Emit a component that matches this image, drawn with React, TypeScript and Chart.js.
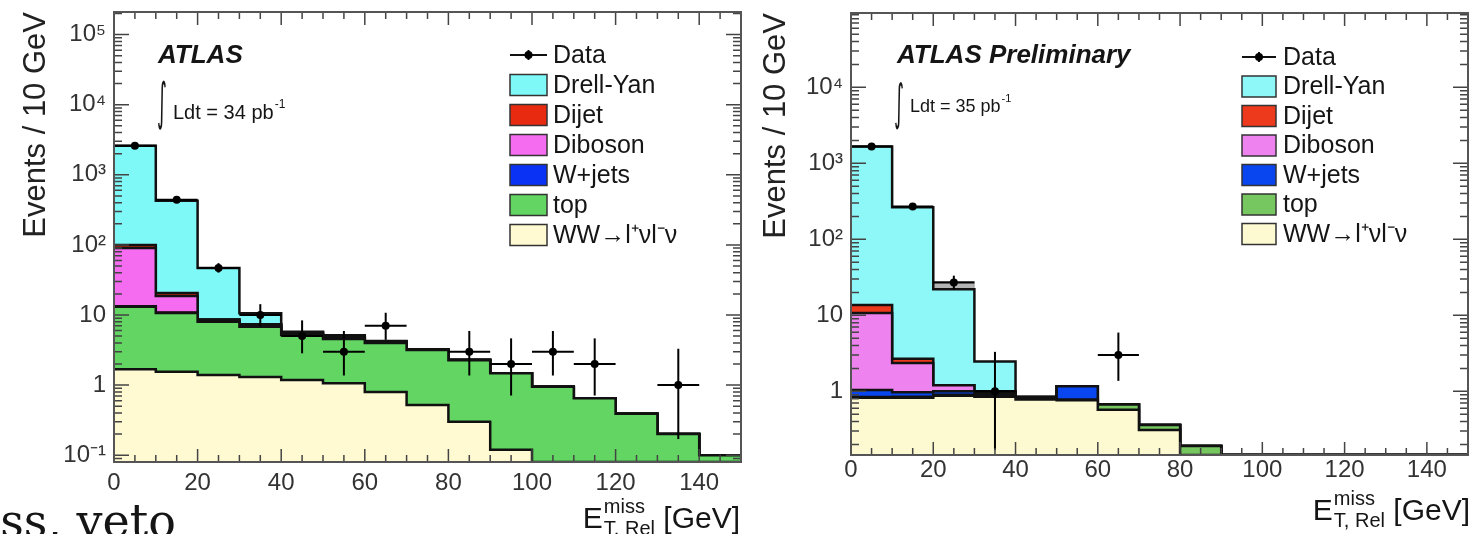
import React, { useEffect, useRef } from 'react';
import { Chart, registerables } from 'chart.js';

Chart.register(...registerables);

const FONT = "'Liberation Sans', Arial, Helvetica, sans-serif";

// ---------------- shared binning / labels ----------------
const binLow = [0, 10, 20, 30, 40, 50, 60, 70, 80, 90, 100, 110, 120, 130, 140];
const binWidth = 10;
const xTickLabels = ['0', '20', '40', '60', '80', '100', '120', '140'];
const logTickExps = [-1, 0, 1, 2, 3, 4, 5];
const logTickLabels = ['10⁻¹', '1', '10', '10²', '10³', '10⁴', '10⁵'];
const stackLabels = ['WW→l⁺νl⁻ν', 'top', 'W+jets', 'Diboson', 'Dijet', 'Drell-Yan'];
const legendLabels = ['Data', 'Drell-Yan', 'Dijet', 'Diboson', 'W+jets', 'top', 'WW→l⁺νl⁻ν'];
const yTitle = 'Events / 10 GeV';

// ---------------- left panel (34 pb-1) ----------------
const leftWW = [1.68, 1.55, 1.39, 1.31, 1.18, 1.06, 0.8, 0.52, 0.3, 0.12, 0, 0, 0, 0, 0];
const leftTop = [11.4, 9.15, 6.6, 5.5, 4.0, 3.5, 3.2, 2.64, 1.97, 1.35, 0.95, 0.65, 0.39, 0.2, 0.1];
const leftWjets = [0.3, 0.2, 0.15, 0.1, 0.1, 0.08, 0.05, 0.03, 0, 0, 0, 0, 0, 0, 0];
const leftDiboson = [77, 7.8, 0.5, 0.5, 0.3, 0.25, 0.1, 0.05, 0.03, 0, 0, 0, 0, 0, 0];
const leftDijet = [9.4, 1.9, 0, 0, 0, 0, 0, 0, 0, 0, 0, 0, 0, 0, 0];
const leftDY = [2500, 404, 38, 3.2, 0.2, 0.27, 0.1, 0, 0, 0, 0, 0, 0, 0, 0];
const leftData = [2600, 440, 47, 10, 5, 3, 7, 0, 3, 2, 3, 2, 0, 1, 0];
const leftDataLow = [2549, 419, 40.2, 6.89, 2.84, 1.37, 4.42, 0, 1.37, 0.71, 1.37, 0.71, 0, 0.17, 0];
const leftDataHigh = [2651, 461, 54.9, 14.27, 8.38, 5.92, 10.77, 0, 5.92, 4.64, 5.92, 4.64, 0, 3.3, 0];
const leftBandLow = [0, 0, 0, 0, 0, 0, 0, 0, 0, 0, 0, 0, 0, 0, 0];
const leftBandHigh = [0, 0, 0, 0, 0, 0, 0, 0, 0, 0, 0, 0, 0, 0, 0];

// ---------------- right panel (35 pb-1) ----------------
const rightWW = [0.82, 0.82, 0.87, 0.85, 0.78, 0.76, 0.57, 0.31, 0.12, 0, 0, 0, 0, 0, 0];
const rightTop = [0.02, 0.03, 0.03, 0.05, 0.04, 0.02, 0.1, 0.05, 0.07, 0, 0, 0, 0, 0, 0];
const rightWjets = [0.2, 0.12, 0.1, 0.05, 0.02, 0.38, 0, 0, 0, 0, 0, 0, 0, 0, 0];
const rightDiboson = [9.66, 1.38, 0.2, 0.05, 0, 0, 0, 0, 0, 0, 0, 0, 0, 0, 0];
const rightDijet = [3.0, 0.32, 0, 0, 0, 0, 0, 0, 0, 0, 0, 0, 0, 0, 0];
const rightDY = [1650, 262, 20.8, 1.47, 0, 0, 0, 0, 0, 0, 0, 0, 0, 0, 0];
const rightData = [1660, 270, 27, 1, 0, 0, 3, 0, 0, 0, 0, 0, 0, 0, 0];
const rightDataLow = [1619, 253.6, 22.0, 0.17, 0, 0, 1.37, 0, 0, 0, 0, 0, 0, 0, 0];
const rightDataHigh = [1701, 287, 33.2, 3.3, 0, 0, 5.92, 0, 0, 0, 0, 0, 0, 0, 0];
const rightBandLow = [0, 0, 16.1, 0, 0, 0, 0, 0, 0, 0, 0, 0, 0, 0, 0];
const rightBandHigh = [0, 0, 27.9, 0, 0, 0, 0, 0, 0, 0, 0, 0, 0, 0, 0];

type Panel = {
  layers: number[][];
  data: number[];
  dataLow: number[];
  dataHigh: number[];
  bandLow: number[];
  bandHigh: number[];
  colors: string[];
  yMin: number;
  yMax: number;
  atlas: string;
  lumi: string;
  box: any;
  deco: any;
};

const leftPanel: Panel = {
  layers: [leftWW, leftTop, leftWjets, leftDiboson, leftDijet, leftDY],
  data: leftData,
  dataLow: leftDataLow,
  dataHigh: leftDataHigh,
  bandLow: leftBandLow,
  bandHigh: leftBandHigh,
  colors: ['#fffad2', '#63d563', '#0a32f5', '#f66cf0', '#e82a10', '#7ff8f8'],
  yMin: 0.08,
  yMax: 2.1e5,
  atlas: 'ATLAS',
  lumi: '34',
  box: { canvasLeft: 0, canvasW: 760, left: 114, top: 12, right: 741, bottom: 462, titlePad: 18, xTickPad: 7 },
  deco: {
    atlasX: 44, atlasBase: 51,
    intX: 44, intTop: 68, intBottom: 118, lumiX: 59, lumiBase: 107, lumiSize: 20,
    boxX: 396, boxW: 37, textX: 439, row0: 43, step: 30, legendSize: 25,
    xTitleBase: 528, xTitleRight: 740,
    foot: 'ass, veto', footRight: 176, footBase: 537,
  },
};

const rightPanel: Panel = {
  layers: [rightWW, rightTop, rightWjets, rightDiboson, rightDijet, rightDY],
  data: rightData,
  dataLow: rightDataLow,
  dataHigh: rightDataHigh,
  bandLow: rightBandLow,
  bandHigh: rightBandHigh,
  colors: ['#fdfad2', '#76c760', '#0a46f0', '#ee82ee', '#ee3a1c', '#8ef8f8'],
  yMin: 0.145,
  yMax: 9.5e4,
  atlas: 'ATLAS Preliminary',
  lumi: '35',
  box: { canvasLeft: 737, canvasW: 737, left: 114, top: 13, right: 731, bottom: 455, titlePad: 21, xTickPad: 1 },
  deco: {
    atlasX: 46, atlasBase: 50,
    intX: 44, intTop: 69, intBottom: 117, lumiX: 59, lumiBase: 99, lumiSize: 18,
    boxX: 391, boxW: 34, textX: 432, row0: 44, step: 29.5, legendSize: 25,
    xTitleBase: 520, xTitleRight: 733,
    foot: '', footRight: 0, footBase: 0,
  },
};

const logLabel = (v: number) => {
  const e = Math.log10(v);
  const r = Math.round(e);
  if (Math.abs(e - r) > 1e-6) return '';
  const k = logTickExps.indexOf(r);
  return k >= 0 ? logTickLabels[k] : '';
};

const decorPlugin = {
  id: 'decor',
  afterDatasetsDraw(chart: any, _args: any, o: any) {
    const { ctx, chartArea: a } = chart;
    const xs = chart.scales.x;
    const ys = chart.scales.y;
    ctx.save();
    ctx.strokeStyle = '#444';
    ctx.lineWidth = 1.5;
    ctx.beginPath();
    for (let v = xs.min; v <= xs.max + 1e-9; v += 5) {
      const px = xs.getPixelForValue(v);
      const len = Math.abs(v % 20) < 1e-9 ? 13 : 7;
      ctx.moveTo(px, a.bottom);
      ctx.lineTo(px, a.bottom - len);
      ctx.moveTo(px, a.top);
      ctx.lineTo(px, a.top + len);
    }
    const e0 = Math.floor(Math.log10(ys.min));
    const e1 = Math.ceil(Math.log10(ys.max));
    for (let e = e0; e <= e1; e++) {
      for (let k = 1; k <= 9; k++) {
        const v = k * Math.pow(10, e);
        if (v < ys.min || v > ys.max) continue;
        const py = ys.getPixelForValue(v);
        const len = k === 1 ? 15 : 8;
        ctx.moveTo(a.left, py);
        ctx.lineTo(a.left + len, py);
        ctx.moveTo(a.right, py);
        ctx.lineTo(a.right - len, py);
      }
    }
    ctx.stroke();
    ctx.lineWidth = 2;
    ctx.strokeStyle = '#555';
    ctx.strokeRect(a.left, a.top, a.right - a.left, a.bottom - a.top);
    ctx.restore();
  },
  afterDraw(chart: any, _args: any, o: any) {
    const { ctx, chartArea: a } = chart;
    ctx.save();
    ctx.fillStyle = '#151515';
    ctx.textAlign = 'left';
    ctx.textBaseline = 'alphabetic';

    // ATLAS label
    ctx.font = `italic bold 26px ${FONT}`;
    ctx.fillText(o.atlas, a.left + o.atlasX, a.top + o.atlasBase);

    // integral sign
    ctx.font = `100px 'DejaVu Sans'`;
    const m = ctx.measureText('∫');
    const gh = m.actualBoundingBoxAscent + m.actualBoundingBoxDescent;
    const sc = (o.intBottom - o.intTop) / gh;
    const gw = (m.actualBoundingBoxRight + m.actualBoundingBoxLeft) * sc;
    ctx.save();
    ctx.translate(a.left + o.intX, a.top + o.intTop + m.actualBoundingBoxAscent * sc);
    ctx.scale(sc * Math.min(1, 8 / gw), sc);
    ctx.fillText('∫', m.actualBoundingBoxLeft, 0);
    ctx.restore();

    // lumi text
    ctx.font = `${o.lumiSize}px ${FONT}`;
    const lumiMain = `Ldt = ${o.lumi} pb`;
    const lx = a.left + o.lumiX;
    const ly = a.top + o.lumiBase;
    ctx.fillText(lumiMain, lx, ly);
    const lw = ctx.measureText(lumiMain).width;
    ctx.font = `${Math.round(o.lumiSize * 0.6)}px ${FONT}`;
    ctx.fillText('-1', lx + lw + 1, ly - o.lumiSize * 0.55);

    // legend
    ctx.font = `${o.legendSize}px ${FONT}`;
    ctx.textBaseline = 'middle';
    legendLabels.forEach((lab, i) => {
      const cy = a.top + o.row0 + i * o.step;
      const bx = a.left + o.boxX;
      if (i === 0) {
        ctx.strokeStyle = '#111';
        ctx.lineWidth = 2;
        ctx.beginPath();
        ctx.moveTo(bx, cy);
        ctx.lineTo(bx + o.boxW, cy);
        ctx.moveTo(bx + o.boxW / 2, cy - 5);
        ctx.lineTo(bx + o.boxW / 2, cy + 5);
        ctx.stroke();
        ctx.beginPath();
        ctx.arc(bx + o.boxW / 2, cy, 4, 0, Math.PI * 2);
        ctx.fillStyle = '#000';
        ctx.fill();
      } else {
        const ds = chart.data.datasets.find((d: any) => d.label === lab);
        ctx.fillStyle = ds ? ds.backgroundColor : '#fff';
        ctx.fillRect(bx, cy - 10.5, o.boxW, 21);
        ctx.strokeStyle = '#333';
        ctx.lineWidth = 1.5;
        ctx.strokeRect(bx, cy - 10.5, o.boxW, 21);
      }
      ctx.fillStyle = '#151515';
      ctx.fillText(lab, a.left + o.textX, cy + 1);
    });

    // x axis title  E^{miss}_{T, Rel} [GeV]
    ctx.textBaseline = 'alphabetic';
    const big = `30px ${FONT}`;
    const small = `20px ${FONT}`;
    ctx.font = big;
    const wE = ctx.measureText('E').width;
    const wG = ctx.measureText(' [GeV]').width;
    ctx.font = small;
    const wS = Math.max(ctx.measureText('miss').width, ctx.measureText('T, Rel').width);
    const x0 = o.xTitleRight - (wE + 1 + wS + wG);
    const B = o.xTitleBase;
    ctx.font = big;
    ctx.fillText('E', x0, B);
    ctx.font = small;
    ctx.fillText('miss', x0 + wE + 1, B - 15);
    ctx.fillText('T, Rel', x0 + wE + 1, B + 7);
    ctx.font = big;
    ctx.fillText(' [GeV]', x0 + wE + 1 + wS, B);

    // stray slide text under the left panel
    if (o.foot) {
      ctx.font = `46px 'DejaVu Serif', serif`;
      ctx.textAlign = 'right';
      ctx.fillText(o.foot, o.footRight, o.footBase);
    }
    ctx.restore();
  },
};

function buildConfig(p: Panel) {
  const b = p.box;
  let run = binLow.map(() => 0);
  const stack = p.layers.map((layer, k) => {
    run = run.map((r, i) => r + layer[i]);
    const ys = run.map((v) => Math.max(v, p.yMin));
    const pts = binLow.map((x, i) => ({ x, y: ys[i] }));
    pts.push({ x: binLow[binLow.length - 1] + binWidth, y: ys[ys.length - 1] });
    return {
      type: 'line',
      label: stackLabels[k],
      data: pts,
      stepped: 'before',
      fill: k === 0 ? 'start' : '-1',
      backgroundColor: p.colors[k],
      borderColor: '#111',
      borderWidth: 2.5,
      pointRadius: 0,
      order: 1,
      clip: 0,
    };
  });

  const band = {
    type: 'bar',
    label: 'uncertainty',
    data: binLow.flatMap((x, i) =>
      p.bandHigh[i] > 0 ? [{ x: x + binWidth / 2, y: [p.bandLow[i], p.bandHigh[i]] }] : []),
    backgroundColor: '#b4b4b4',
    borderColor: '#8a8a8a',
    borderWidth: 1,
    grouped: false,
    barPercentage: 1,
    categoryPercentage: 1,
    order: 10,
  };

  const pts = binLow.flatMap((x, i) => (p.data[i] > 0 ? [{ x: x + binWidth / 2, y: p.data[i] }] : []));
  const errY = {
    type: 'bar',
    label: 'errY',
    data: binLow.flatMap((x, i) =>
      p.data[i] > 0 ? [{ x: x + binWidth / 2, y: [p.dataLow[i], p.dataHigh[i]] }] : []),
    backgroundColor: '#000',
    grouped: false,
    maxBarThickness: 2,
    order: -1,
  };
  const errX = {
    type: 'line',
    label: 'errX',
    data: pts,
    showLine: false,
    pointStyle: 'line',
    pointRadius: (c: any) => {
      const s = c.chart.scales.x;
      return (s.getPixelForValue(binWidth) - s.getPixelForValue(0)) / 2;
    },
    pointBorderWidth: 2,
    pointBorderColor: '#000',
    order: -1,
  };
  const dots = {
    type: 'line',
    label: 'Data',
    data: pts,
    showLine: false,
    pointRadius: 4,
    pointBackgroundColor: '#000',
    pointBorderWidth: 0,
    order: -2,
  };

  return {
    type: 'line',
    data: { datasets: [...stack, band, errY, errX, dots] },
    options: {
      animation: false,
      responsive: false,
      events: [],
      layout: { padding: { left: 0, top: b.top, right: b.canvasW - b.right, bottom: 0 } },
      plugins: {
        legend: { display: false },
        tooltip: { enabled: false },
        decor: { ...p.deco, atlas: p.atlas, lumi: p.lumi },
      },
      scales: {
        x: {
          type: 'linear',
          min: 0,
          max: 150,
          offset: false,
          grid: { display: false, drawTicks: false },
          border: { display: false },
          ticks: {
            stepSize: 20,
            includeBounds: false,
            autoSkip: false,
            maxRotation: 0,
            padding: b.xTickPad,
            color: '#333',
            font: { family: FONT, size: 24 },
            callback: (v: number) => xTickLabels[Math.round(v / 20)] ?? '',
          },
          afterFit: (s: any) => {
            s.height = 534 - b.bottom;
            s.paddingLeft = 0;
            s.paddingRight = 0;
          },
        },
        y: {
          type: 'logarithmic',
          min: p.yMin,
          max: p.yMax,
          grid: { display: false, drawTicks: false },
          border: { display: false },
          ticks: {
            autoSkip: false,
            padding: 8,
            color: '#333',
            font: { family: FONT, size: 24 },
            callback: (v: number) => logLabel(v),
          },
          title: {
            display: true,
            text: yTitle,
            align: 'end',
            color: '#222',
            font: { family: FONT, size: 31 },
            padding: { top: b.titlePad, bottom: 0 },
          },
          afterFit: (s: any) => {
            s.width = b.left;
            s.paddingTop = 0;
            s.paddingBottom = 0;
          },
        },
      },
    },
    plugins: [decorPlugin],
  };
}

function HistPanel({ panel }: { panel: Panel }) {
  const ref = useRef<HTMLCanvasElement | null>(null);
  useEffect(() => {
    const chart = new Chart(ref.current as HTMLCanvasElement, buildConfig(panel) as any);
    return () => chart.destroy();
  }, [panel]);
  return (
    <canvas
      ref={ref}
      width={panel.box.canvasW}
      height={534}
      style={{ position: 'absolute', left: panel.box.canvasLeft, top: 0, width: panel.box.canvasW, height: 534, display: 'block' }}
    />
  );
}

export default function App() {
  return (
    <div style={{ position: 'fixed', left: 0, top: 0, width: 1474, height: 534, background: '#fff', overflow: 'hidden' }}>
      <HistPanel panel={leftPanel} />
      <HistPanel panel={rightPanel} />
    </div>
  );
}
